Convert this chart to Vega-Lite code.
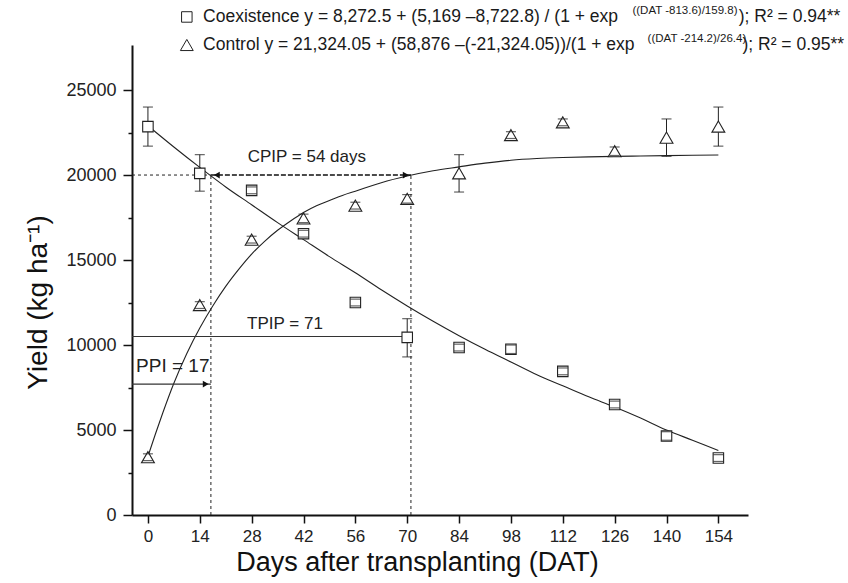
{
  "$schema": "https://vega.github.io/schema/vega-lite/v6.json",
  "width": 616,
  "height": 470,
  "autosize": {"type": "none"},
  "padding": {"left": 132, "top": 45, "right": 100, "bottom": 68},
  "background": "white",
  "config": {
    "view": {"stroke": null},
    "font": "Liberation Sans"
  },
  "datasets": {
    "points": [
      {"treatment": "Coexistence", "dat": 0, "yield": 22850, "lo": 21700, "hi": 24000},
      {"treatment": "Coexistence", "dat": 14, "yield": 20100, "lo": 19050, "hi": 21200},
      {"treatment": "Coexistence", "dat": 28, "yield": 19100, "lo": 18900, "hi": 19300},
      {"treatment": "Coexistence", "dat": 42, "yield": 16550, "lo": 16350, "hi": 16750},
      {"treatment": "Coexistence", "dat": 56, "yield": 12500, "lo": 12300, "hi": 12700},
      {"treatment": "Coexistence", "dat": 70, "yield": 10450, "lo": 9300, "hi": 11550},
      {"treatment": "Coexistence", "dat": 84, "yield": 9850, "lo": 9650, "hi": 10050},
      {"treatment": "Coexistence", "dat": 98, "yield": 9750, "lo": 9500, "hi": 10000},
      {"treatment": "Coexistence", "dat": 112, "yield": 8450, "lo": 8250, "hi": 8650},
      {"treatment": "Coexistence", "dat": 126, "yield": 6500, "lo": 6300, "hi": 6700},
      {"treatment": "Coexistence", "dat": 140, "yield": 4650, "lo": 4400, "hi": 4900},
      {"treatment": "Coexistence", "dat": 154, "yield": 3350, "lo": 3150, "hi": 3550},
      {"treatment": "Control", "dat": 0, "yield": 3400, "lo": 3200, "hi": 3600},
      {"treatment": "Control", "dat": 14, "yield": 12350, "lo": 12150, "hi": 12550},
      {"treatment": "Control", "dat": 28, "yield": 16200, "lo": 16000, "hi": 16400},
      {"treatment": "Control", "dat": 42, "yield": 17450, "lo": 17200, "hi": 17700},
      {"treatment": "Control", "dat": 56, "yield": 18200, "lo": 18000, "hi": 18400},
      {"treatment": "Control", "dat": 70, "yield": 18600, "lo": 18350, "hi": 18850},
      {"treatment": "Control", "dat": 84, "yield": 20100, "lo": 19000, "hi": 21200},
      {"treatment": "Control", "dat": 98, "yield": 22350, "lo": 22150, "hi": 22550},
      {"treatment": "Control", "dat": 112, "yield": 23100, "lo": 22900, "hi": 23300},
      {"treatment": "Control", "dat": 126, "yield": 21400, "lo": 21150, "hi": 21650},
      {"treatment": "Control", "dat": 140, "yield": 22200, "lo": 21100, "hi": 23300},
      {"treatment": "Control", "dat": 154, "yield": 22850, "lo": 21700, "hi": 24000}
    ],
    "curves": [
      {"treatment": "Coexistence", "dat": 0, "yield": 22900},
      {"treatment": "Coexistence", "dat": 7, "yield": 21650},
      {"treatment": "Coexistence", "dat": 14, "yield": 20450},
      {"treatment": "Coexistence", "dat": 17, "yield": 19950},
      {"treatment": "Coexistence", "dat": 21, "yield": 19300},
      {"treatment": "Coexistence", "dat": 28, "yield": 18250},
      {"treatment": "Coexistence", "dat": 35, "yield": 17200},
      {"treatment": "Coexistence", "dat": 42, "yield": 16200},
      {"treatment": "Coexistence", "dat": 49, "yield": 15200},
      {"treatment": "Coexistence", "dat": 56, "yield": 14250},
      {"treatment": "Coexistence", "dat": 63, "yield": 13250},
      {"treatment": "Coexistence", "dat": 70, "yield": 12300},
      {"treatment": "Coexistence", "dat": 77, "yield": 11400},
      {"treatment": "Coexistence", "dat": 84, "yield": 10550},
      {"treatment": "Coexistence", "dat": 91, "yield": 9750},
      {"treatment": "Coexistence", "dat": 98, "yield": 9000},
      {"treatment": "Coexistence", "dat": 105, "yield": 8250},
      {"treatment": "Coexistence", "dat": 112, "yield": 7600},
      {"treatment": "Coexistence", "dat": 119, "yield": 6950},
      {"treatment": "Coexistence", "dat": 126, "yield": 6350},
      {"treatment": "Coexistence", "dat": 133, "yield": 5700},
      {"treatment": "Coexistence", "dat": 140, "yield": 5000},
      {"treatment": "Coexistence", "dat": 147, "yield": 4400},
      {"treatment": "Coexistence", "dat": 154, "yield": 3800},
      {"treatment": "Control", "dat": 0, "yield": 3450},
      {"treatment": "Control", "dat": 2, "yield": 4750},
      {"treatment": "Control", "dat": 4, "yield": 6000},
      {"treatment": "Control", "dat": 7, "yield": 7750},
      {"treatment": "Control", "dat": 10.5, "yield": 9500},
      {"treatment": "Control", "dat": 14, "yield": 11000},
      {"treatment": "Control", "dat": 17.5, "yield": 12300},
      {"treatment": "Control", "dat": 21, "yield": 13450},
      {"treatment": "Control", "dat": 24.5, "yield": 14450},
      {"treatment": "Control", "dat": 28, "yield": 15350},
      {"treatment": "Control", "dat": 31.5, "yield": 16100},
      {"treatment": "Control", "dat": 35, "yield": 16750},
      {"treatment": "Control", "dat": 38.5, "yield": 17300},
      {"treatment": "Control", "dat": 42, "yield": 17800},
      {"treatment": "Control", "dat": 45.5, "yield": 18200},
      {"treatment": "Control", "dat": 49, "yield": 18500},
      {"treatment": "Control", "dat": 52.5, "yield": 18800},
      {"treatment": "Control", "dat": 56, "yield": 19050},
      {"treatment": "Control", "dat": 63, "yield": 19550},
      {"treatment": "Control", "dat": 70, "yield": 19940},
      {"treatment": "Control", "dat": 77, "yield": 20250},
      {"treatment": "Control", "dat": 84, "yield": 20480},
      {"treatment": "Control", "dat": 91, "yield": 20700},
      {"treatment": "Control", "dat": 98, "yield": 20870},
      {"treatment": "Control", "dat": 105, "yield": 20970},
      {"treatment": "Control", "dat": 112, "yield": 21030},
      {"treatment": "Control", "dat": 119, "yield": 21070},
      {"treatment": "Control", "dat": 126, "yield": 21100},
      {"treatment": "Control", "dat": 133, "yield": 21120},
      {"treatment": "Control", "dat": 140, "yield": 21140},
      {"treatment": "Control", "dat": 147, "yield": 21160},
      {"treatment": "Control", "dat": 154, "yield": 21180}
    ],
    "dottedGuides": [
      {"x1": -4.3, "x2": 17, "y1": 20000, "y2": 20000},
      {"x1": 17, "x2": 17, "y1": 0, "y2": 20000},
      {"x1": 71, "x2": 71, "y1": 0, "y2": 20000}
    ],
    "cpipShaft": [
      {"x1": 17, "x2": 71, "y1": 20000, "y2": 20000}
    ],
    "solidGuides": [
      {"x1": -4.3, "x2": 71, "y1": 10500, "y2": 10500},
      {"x1": -4.3, "x2": 17, "y1": 7700, "y2": 7700}
    ],
    "arrowHeads": [
      {"dat": 18.6, "yield": 20000, "shape": "triangle-left"},
      {"dat": 69.6, "yield": 20000, "shape": "triangle-right"},
      {"dat": 69.6, "yield": 10500, "shape": "triangle-right"},
      {"dat": 15.6, "yield": 7700, "shape": "triangle-right"}
    ],
    "notes": [
      {"dat": 42.9, "yield": 21080, "label": "CPIP = 54 days", "big": false},
      {"dat": 37.0, "yield": 11240, "label": "TPIP = 71", "big": false},
      {"dat": 6.7, "yield": 8760, "label": "PPI = 17", "big": true}
    ],
    "keySymbols": [
      {"treatment": "Coexistence", "dat": 10.5, "yield": 29300},
      {"treatment": "Control", "dat": 10.5, "yield": 27650}
    ],
    "keyText": [
      {"part": "main", "dat": 14.9, "yield": 29300, "label": "Coexistence y = 8,272.5 + (5,169  –8,722.8) / (1 + exp"},
      {"part": "sup", "dat": 130.8, "yield": 29650, "label": "((DAT -813.6)/159.8)"},
      {"part": "tail", "dat": 159.5, "yield": 29300, "label": "); R² = 0.94**"},
      {"part": "main", "dat": 14.9, "yield": 27650, "label": "Control y = 21,324.05 + (58,876  –(-21,324.05))/(1 + exp"},
      {"part": "sup", "dat": 134.9, "yield": 28000, "label": "((DAT -214.2)/26.4)"},
      {"part": "tail", "dat": 160.5, "yield": 27650, "label": "); R² = 0.95**"}
    ]
  },
  "layer": [
    {
      "data": {"name": "curves"},
      "mark": {"type": "line", "color": "#222", "strokeWidth": 1.1, "interpolate": "monotone"},
      "encoding": {
        "x": {
          "field": "dat", "type": "quantitative",
          "scale": {"domain": [-4.3, 162], "nice": false, "zero": false},
          "axis": {
            "values": [0, 7, 14, 21, 28, 35, 42, 49, 56, 63, 70, 77, 84, 91, 98, 105, 112, 119, 126, 133, 140, 147, 154],
            "format": "d",
            "labelExpr": "datum.value % 14 === 0 ? datum.label : ''",
            "tickSize": {"condition": {"test": "datum.value % 14 === 0", "value": 8}, "value": 4},
            "grid": false,
            "labelOverlap": false,
            "labelFlush": false,
            "domainColor": "#111", "domainWidth": 2,
            "tickColor": "#111", "tickWidth": 1.5,
            "labelFontSize": 17, "labelColor": "#222", "labelPadding": 5,
            "title": "Days after transplanting (DAT)",
            "titleFontSize": 27, "titleFontWeight": "normal", "titleColor": "#111",
            "titlePadding": 5, "titleX": 285
          }
        },
        "y": {
          "field": "yield", "type": "quantitative",
          "scale": {"domain": [0, 27650], "nice": false, "zero": true},
          "axis": {
            "values": [0, 2500, 5000, 7500, 10000, 12500, 15000, 17500, 20000, 22500, 25000],
            "format": "d",
            "labelExpr": "datum.value % 5000 === 0 ? datum.label : ''",
            "tickSize": {"condition": {"test": "datum.value % 5000 === 0", "value": 9}, "value": 4},
            "grid": false,
            "labelOverlap": false,
            "labelFlush": false,
            "domainColor": "#111", "domainWidth": 2,
            "tickColor": "#111", "tickWidth": 1.5,
            "labelFontSize": 18, "labelColor": "#222", "labelPadding": 7,
            "title": "Yield (kg ha⁻¹)",
            "titleFontSize": 28, "titleFontWeight": "normal", "titleColor": "#111",
            "titlePadding": 13, "titleY": 257
          }
        },
        "detail": {"field": "treatment"}
      }
    },
    {
      "data": {"name": "dottedGuides"},
      "mark": {"type": "rule", "color": "#222", "strokeWidth": 1, "strokeDash": [3, 3]},
      "encoding": {
        "x": {"field": "x1", "type": "quantitative"},
        "x2": {"field": "x2"},
        "y": {"field": "y1", "type": "quantitative"},
        "y2": {"field": "y2"}
      }
    },
    {
      "data": {"name": "cpipShaft"},
      "mark": {"type": "rule", "color": "#111", "strokeWidth": 1.6, "strokeDash": [5, 2]},
      "encoding": {
        "x": {"field": "x1", "type": "quantitative"},
        "x2": {"field": "x2"},
        "y": {"field": "y1", "type": "quantitative"},
        "y2": {"field": "y2"}
      }
    },
    {
      "data": {"name": "solidGuides"},
      "mark": {"type": "rule", "color": "#333", "strokeWidth": 1.1},
      "encoding": {
        "x": {"field": "x1", "type": "quantitative"},
        "x2": {"field": "x2"},
        "y": {"field": "y1", "type": "quantitative"},
        "y2": {"field": "y2"}
      }
    },
    {
      "data": {"name": "arrowHeads"},
      "mark": {"type": "point", "filled": true, "color": "#111", "size": 45, "opacity": 1},
      "encoding": {
        "x": {"field": "dat", "type": "quantitative"},
        "y": {"field": "yield", "type": "quantitative"},
        "shape": {"field": "shape", "type": "nominal", "scale": null, "legend": null}
      }
    },
    {
      "data": {"name": "points"},
      "mark": {"type": "rule", "color": "#222", "strokeWidth": 1},
      "encoding": {
        "x": {"field": "dat", "type": "quantitative"},
        "y": {"field": "lo", "type": "quantitative"},
        "y2": {"field": "hi"}
      }
    },
    {
      "data": {"name": "points"},
      "mark": {"type": "point", "filled": true, "fill": "white", "stroke": "#222", "strokeWidth": 1.1, "opacity": 1},
      "encoding": {
        "x": {"field": "dat", "type": "quantitative"},
        "y": {"field": "yield", "type": "quantitative"},
        "shape": {"field": "treatment", "type": "nominal", "scale": {"domain": ["Coexistence", "Control"], "range": ["square", "triangle-up"]}, "legend": null},
        "size": {"field": "treatment", "type": "nominal", "scale": {"domain": ["Coexistence", "Control"], "range": [110, 165]}, "legend": null}
      }
    },
    {
      "data": {"name": "points"},
      "mark": {"type": "tick", "orient": "horizontal", "color": "#222", "size": 10, "thickness": 1.2},
      "encoding": {
        "x": {"field": "dat", "type": "quantitative"},
        "y": {"field": "lo", "type": "quantitative"}
      }
    },
    {
      "data": {"name": "points"},
      "mark": {"type": "tick", "orient": "horizontal", "color": "#222", "size": 10, "thickness": 1.2},
      "encoding": {
        "x": {"field": "dat", "type": "quantitative"},
        "y": {"field": "hi", "type": "quantitative"}
      }
    },
    {
      "data": {"name": "notes"},
      "transform": [{"filter": "!datum.big"}],
      "mark": {"type": "text", "fontSize": 17, "color": "#222", "align": "center", "baseline": "middle"},
      "encoding": {
        "x": {"field": "dat", "type": "quantitative"},
        "y": {"field": "yield", "type": "quantitative"},
        "text": {"field": "label"}
      }
    },
    {
      "data": {"name": "notes"},
      "transform": [{"filter": "datum.big"}],
      "mark": {"type": "text", "fontSize": 19, "color": "#222", "align": "center", "baseline": "middle"},
      "encoding": {
        "x": {"field": "dat", "type": "quantitative"},
        "y": {"field": "yield", "type": "quantitative"},
        "text": {"field": "label"}
      }
    },
    {
      "data": {"name": "keySymbols"},
      "mark": {"type": "point", "filled": true, "fill": "white", "stroke": "#222", "strokeWidth": 1, "opacity": 1},
      "encoding": {
        "x": {"field": "dat", "type": "quantitative"},
        "y": {"field": "yield", "type": "quantitative"},
        "shape": {"field": "treatment", "type": "nominal", "scale": {"domain": ["Coexistence", "Control"], "range": ["square", "triangle-up"]}, "legend": null},
        "size": {"field": "treatment", "type": "nominal", "scale": {"domain": ["Coexistence", "Control"], "range": [80, 110]}, "legend": null}
      }
    },
    {
      "data": {"name": "keyText"},
      "transform": [{"filter": "datum.part !== 'sup'"}],
      "mark": {"type": "text", "fontSize": 17.5, "color": "#1a1a1a", "align": "left", "baseline": "middle"},
      "encoding": {
        "x": {"field": "dat", "type": "quantitative"},
        "y": {"field": "yield", "type": "quantitative"},
        "text": {"field": "label"}
      }
    },
    {
      "data": {"name": "keyText"},
      "transform": [{"filter": "datum.part === 'sup'"}],
      "mark": {"type": "text", "fontSize": 11.5, "color": "#1a1a1a", "align": "left", "baseline": "middle"},
      "encoding": {
        "x": {"field": "dat", "type": "quantitative"},
        "y": {"field": "yield", "type": "quantitative"},
        "text": {"field": "label"}
      }
    }
  ]
}
